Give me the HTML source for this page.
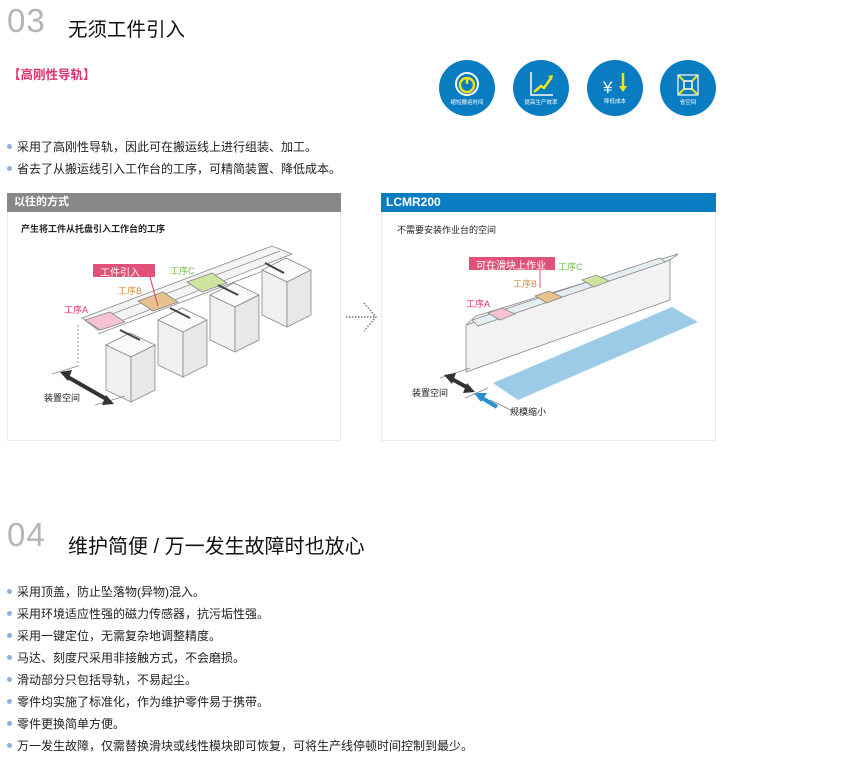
<!DOCTYPE html>
<html><head><meta charset="utf-8"><style>
body{margin:0;width:854px;height:770px;background:#fff;position:relative;font-family:"Liberation Sans","Noto Sans CJK SC",sans-serif;overflow:hidden}
.a{position:absolute;white-space:nowrap}
.num{font-size:33px;color:#b4b4b4;font-weight:300;letter-spacing:1px}
.tt{font-size:19.5px;color:#111}
.b{font-size:12px;color:#222;padding-left:10px}
.b:before{content:"";position:absolute;left:0;top:6px;width:5px;height:5px;border-radius:50%;background:#8fb3dc}
.ic{position:absolute;width:56px;height:56px;border-radius:50%;background:#0a7cc2}
.ic span{position:absolute;left:0;right:0;top:38px;font-size:5.5px;color:#fff;text-align:center}
</style></head><body>
<div class="a num" style="left:7px;top:2px">03</div>
<div class="a tt" style="left:68px;top:13px">无须工件引入</div>
<div class="a" style="left:8px;top:64px;font-size:12.5px;font-weight:bold;color:#e0306e">【高刚性导轨】</div>

<div class="ic" style="left:439px;top:60px"><svg width="56" height="56"><circle cx="28" cy="24" r="11" fill="none" stroke="#fff" stroke-width="2"/><circle cx="28" cy="25" r="7" fill="none" stroke="#f2e21a" stroke-width="2.5"/><line x1="28" y1="17" x2="28" y2="24" stroke="#f2e21a" stroke-width="2.5"/></svg><span>缩短搬运时间</span></div>
<div class="ic" style="left:513px;top:60px"><svg width="56" height="56"><path d="M18 12V35H40" fill="none" stroke="#fff" stroke-width="1.5"/><path d="M21 32L28 26L31 28L38 18" fill="none" stroke="#f2e21a" stroke-width="2.5"/><path d="M35 16L40 15L39 20Z" fill="#f2e21a"/></svg><span>提高生产效率</span></div>
<div class="ic" style="left:587px;top:60px"><svg width="56" height="56"><text x="16" y="33" font-size="17" fill="#fff" font-family="Liberation Sans">¥</text><path d="M36 13V28" stroke="#f2e21a" stroke-width="2.5"/><path d="M32 26L36 32L40 26Z" fill="#f2e21a"/></svg><span style="top:37px">降低成本</span></div>
<div class="ic" style="left:660px;top:60px"><svg width="56" height="56"><rect x="18" y="15" width="20" height="20" fill="none" stroke="#fff" stroke-width="1.2"/><rect x="24" y="21" width="8" height="8" fill="none" stroke="#fff" stroke-width="1.5"/><path d="M19 16L24 21M37 16L32 21M19 34L24 29M37 34L32 29" stroke="#f2e21a" stroke-width="2"/></svg><span>省空间</span></div>

<div class="a b" style="left:7px;top:138px">采用了高刚性导轨，因此可在搬运线上进行组装、加工。</div>
<div class="a b" style="left:7px;top:160px">省去了从搬运线引入工作台的工序，可精简装置、降低成本。</div>

<div class="a" style="left:7px;top:193px;width:334px;height:248px;border:1px solid #e3ecf4;box-sizing:border-box"></div>
<div class="a" style="left:7px;top:193px;width:334px;height:19px;background:#888;color:#fff;font-size:11px;font-weight:bold;line-height:19px;padding-left:7px;box-sizing:border-box">以往的方式</div>
<div class="a" style="left:21px;top:222px;font-size:9px;font-weight:bold;color:#222">产生将工件从托盘引入工作台的工序</div>

<div class="a" style="left:381px;top:193px;width:335px;height:248px;border:1px solid #e3ecf4;box-sizing:border-box"></div>
<div class="a" style="left:381px;top:193px;width:335px;height:19px;background:#0a7cc2;color:#fff;font-size:12px;font-weight:bold;line-height:19px;padding-left:5px;box-sizing:border-box">LCMR200</div>
<div class="a" style="left:397px;top:223px;font-size:9px;color:#222">不需要安装作业台的空间</div>

<svg class="a" style="left:0;top:0" width="854" height="770">
<g stroke="#888" stroke-width="0.8">
 <polygon points="82,318 272,246 292,254 98,330" fill="#f4f4f4"/>
 <line x1="88" y1="323" x2="280" y2="251"/>
 <line x1="98" y1="334" x2="292" y2="260"/>
 <polygon points="85,320 110,312 125,322 100,330" fill="#f6c2d2"/>
 <polygon points="138,301 163,292 178,302 153,311" fill="#e6c38e"/>
 <polygon points="187,282 212,273 227,283 202,292" fill="#cde49e"/>
 <g fill="#f0f0f0">
 <polygon points="106,345 130,333 155,345 131,357" fill="#fafafa"/><polygon points="106,345 131,357 131,402 106,390"/><polygon points="131,357 155,345 155,390 131,402" fill="#e8e8e8"/>
 <polygon points="158,320 182,308 207,320 183,332" fill="#fafafa"/><polygon points="158,320 183,332 183,377 158,365"/><polygon points="183,332 207,320 207,365 183,377" fill="#e8e8e8"/>
 <polygon points="210,295 234,283 259,295 235,307" fill="#fafafa"/><polygon points="210,295 235,307 235,352 210,340"/><polygon points="235,307 259,295 259,340 235,352" fill="#e8e8e8"/>
 <polygon points="262,270 286,258 311,270 287,282" fill="#fafafa"/><polygon points="262,270 287,282 287,327 262,315"/><polygon points="287,282 311,270 311,315 287,327" fill="#e8e8e8"/>
 </g>
 <line x1="78" y1="325" x2="78" y2="366" stroke-dasharray="2,2"/>
 <line x1="52" y1="374" x2="78" y2="366"/><line x1="95" y1="405" x2="125" y2="396"/>
 <polygon points="466,325 476,316 678,254 670,260" fill="#f6f6f6"/>
 <polygon points="466,325 670,260 670,300 466,372" fill="#f2f2f2"/>
 <polygon points="472,320 660,258 665,262 478,326" fill="#e4eef2"/>
 <polygon points="493,383 518,400 698,322 672,307" fill="#9ccbe8" stroke="none"/>
 <polygon points="488,313 502,308 515,314 500,320" fill="#f6c2d2"/>
 <polygon points="535,296 549,291 562,297 547,303" fill="#e6c38e"/>
 <polygon points="582,280 596,275 609,281 594,287" fill="#cde49e"/>
 <line x1="440" y1="378" x2="470" y2="368"/><line x1="465" y1="398" x2="488" y2="388"/>
 <line x1="490" y1="400" x2="515" y2="412"/>
</g>
<g stroke="#444" stroke-width="2">
 <line x1="120" y1="330" x2="140" y2="340"/><line x1="170" y1="308" x2="190" y2="318"/><line x1="218" y1="285" x2="238" y2="295"/><line x1="265" y1="263" x2="284" y2="273"/>
</g>
<line x1="66" y1="376" x2="108" y2="400" stroke="#333" stroke-width="4"/>
<polygon points="60,372 72,370 68,381" fill="#333"/><polygon points="114,404 102,405 106,395" fill="#333"/>
<line x1="450" y1="378" x2="470" y2="389" stroke="#333" stroke-width="4"/>
<polygon points="444,375 456,373 452,384" fill="#333"/><polygon points="475,392 463,393 467,383" fill="#333"/>
<line x1="497" y1="407" x2="482" y2="398" stroke="#2a8fd0" stroke-width="4"/><polygon points="474,393 487,393 481,402" fill="#2a8fd0"/>
<g stroke="#777" stroke-width="1.5" stroke-dasharray="1.5,1.5" fill="none"><line x1="346" y1="317" x2="376" y2="317"/><path d="M364 303L376 317L364 331"/></g>
<rect x="93" y="264" width="62" height="13" fill="#e0527a"/><line x1="150" y1="277" x2="158" y2="306" stroke="#e0527a" stroke-width="1.2"/>
<rect x="469" y="257" width="86" height="13" fill="#e0527a"/><line x1="540" y1="270" x2="540" y2="288" stroke="#e0527a" stroke-width="1"/>
</svg>
<div class="a" style="left:100px;top:264px;font-size:10px;color:#fff">工件引入</div>
<div class="a" style="left:476px;top:257px;font-size:10px;color:#fff">可在滑块上作业</div>
<div class="a" style="left:64px;top:303px;font-size:9px;color:#e0306e">工序A</div>
<div class="a" style="left:118px;top:284px;font-size:9px;color:#d09040">工序B</div>
<div class="a" style="left:170px;top:264px;font-size:9px;color:#6cbf4a">工序C</div>
<div class="a" style="left:466px;top:297px;font-size:9px;color:#e0306e">工序A</div>
<div class="a" style="left:513px;top:277px;font-size:9px;color:#d09040">工序B</div>
<div class="a" style="left:558px;top:260px;font-size:9px;color:#6cbf4a">工序C</div>
<div class="a" style="left:44px;top:391px;font-size:9px;color:#222">装置空间</div>
<div class="a" style="left:412px;top:386px;font-size:9px;color:#222">装置空间</div>
<div class="a" style="left:510px;top:405px;font-size:9px;color:#222">规模缩小</div>

<div class="a num" style="left:7px;top:516px">04</div>
<div class="a tt" style="left:68px;top:530px;font-size:20px">维护简便 / 万一发生故障时也放心</div>
<div class="a b" style="left:7px;top:583px">采用顶盖，防止坠落物(异物)混入。</div>
<div class="a b" style="left:7px;top:605px">采用环境适应性强的磁力传感器，抗污垢性强。</div>
<div class="a b" style="left:7px;top:627px">采用一键定位，无需复杂地调整精度。</div>
<div class="a b" style="left:7px;top:649px">马达、刻度尺采用非接触方式，不会磨损。</div>
<div class="a b" style="left:7px;top:671px">滑动部分只包括导轨，不易起尘。</div>
<div class="a b" style="left:7px;top:693px">零件均实施了标准化，作为维护零件易于携带。</div>
<div class="a b" style="left:7px;top:715px">零件更换简单方便。</div>
<div class="a b" style="left:7px;top:737px">万一发生故障，仅需替换滑块或线性模块即可恢复，可将生产线停顿时间控制到最少。</div>
</body></html>
